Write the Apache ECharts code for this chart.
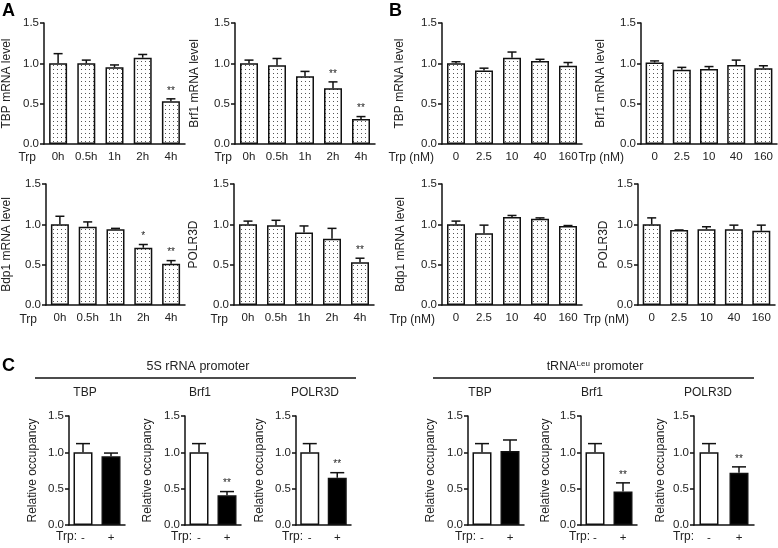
<!DOCTYPE html>
<html><head><meta charset="utf-8">
<script src="https://cdn.jsdelivr.net/npm/echarts@6/dist/echarts.min.js"></script>
<style>html,body{margin:0;padding:0;background:#fff}#c{width:778px;height:548px}</style>
</head><body><div id="c"></div>
<script>
// ---------- DATA ----------
const timeCats = ['0h', '0.5h', '1h', '2h', '4h'];
const doseCats = ['0', '2.5', '10', '40', '160'];
const trpCats = ['-', '+'];
const yTicks = [0, 0.5, 1.0, 1.5];

// Panel A (time course)
const aTBP = [1.00, 1.00, 0.95, 1.07, 0.53];
const aTBPErr = [1.12, 1.04, 0.98, 1.11, 0.56];
const aTBPSig = ['', '', '', '', '**'];
const aBrf1 = [1.00, 0.975, 0.84, 0.69, 0.31];
const aBrf1Err = [1.04, 1.06, 0.90, 0.77, 0.34];
const aBrf1Sig = ['', '', '', '**', '**'];
const aBdp1 = [1.00, 0.97, 0.94, 0.71, 0.51];
const aBdp1Err = [1.10, 1.03, 0.95, 0.75, 0.55];
const aBdp1Sig = ['', '', '', '*', '**'];
const aPOLR3D = [1.00, 0.99, 0.90, 0.82, 0.53];
const aPOLR3DErr = [1.04, 1.05, 0.98, 0.95, 0.58];
const aPOLR3DSig = ['', '', '', '', '**'];

// Panel B (dose)
const bTBP = [1.00, 0.91, 1.07, 1.03, 0.97];
const bTBPErr = [1.02, 0.94, 1.14, 1.05, 1.01];
const bBrf1 = [1.01, 0.92, 0.93, 0.98, 0.94];
const bBrf1Err = [1.03, 0.95, 0.96, 1.04, 0.97];
const bBdp1 = [1.00, 0.89, 1.09, 1.07, 0.98];
const bBdp1Err = [1.04, 0.99, 1.11, 1.08, 0.985];
const bPOLR3D = [1.00, 0.93, 0.94, 0.94, 0.92];
const bPOLR3DErr = [1.08, 0.93, 0.97, 0.99, 0.99];
const noSig = ['', '', '', '', ''];

// Panel C (occupancy)
const c5sTBP = [1.00, 0.945];
const c5sTBPErr = [1.12, 0.99];
const c5sTBPSig = ['', ''];
const c5sBrf1 = [1.00, 0.41];
const c5sBrf1Err = [1.12, 0.46];
const c5sBrf1Sig = ['', '**'];
const c5sPOLR3D = [1.00, 0.65];
const c5sPOLR3DErr = [1.12, 0.72];
const c5sPOLR3DSig = ['', '**'];
const cLeuTBP = [1.00, 1.02];
const cLeuTBPErr = [1.12, 1.17];
const cLeuTBPSig = ['', ''];
const cLeuBrf1 = [1.00, 0.46];
const cLeuBrf1Err = [1.12, 0.58];
const cLeuBrf1Sig = ['', '**'];
const cLeuPOLR3D = [1.00, 0.72];
const cLeuPOLR3DErr = [1.12, 0.80];
const cLeuPOLR3DSig = ['', '**'];

// ---------- STYLE / BUILD ----------
const FONT = "'Liberation Sans', Arial, Helvetica, sans-serif";
const INK = '#111';
const TXT = '#222';

const pc = document.createElement('canvas');
pc.width = 4; pc.height = 4;
const pctx = pc.getContext('2d');
pctx.fillStyle = '#ffffff'; pctx.fillRect(0, 0, 4, 4);
pctx.fillStyle = '#555555'; pctx.fillRect(1, 1, 1, 1);
const dots = { image: pc, repeat: 'repeat' };

const grids = [], xAxes = [], yAxes = [], series = [];

function panel(cfg) {
  const k = grids.length;
  grids.push({ left: cfg.left, top: cfg.top, width: cfg.width, height: cfg.height });
  xAxes.push({
    type: 'category', gridIndex: k, data: cfg.cats,
    axisLine: { lineStyle: { color: INK, width: 1.5 } },
    axisTick: { alignWithLabel: true, length: 4, lineStyle: { color: INK, width: 1.5 } },
    axisLabel: { color: TXT, fontSize: cfg.xfs || 11.5, margin: 7, fontFamily: FONT, interval: 0 },
    splitLine: { show: false }
  });
  yAxes.push({
    type: 'value', gridIndex: k, min: yTicks[0], max: yTicks[yTicks.length - 1], interval: 0.5,
    name: cfg.yName, nameLocation: 'middle', nameGap: cfg.gap,
    nameTextStyle: { color: TXT, fontSize: cfg.nfs || 12, fontFamily: FONT },
    axisLine: { show: true, lineStyle: { color: INK, width: 1.5 } },
    axisTick: { show: true, length: 4, lineStyle: { color: INK, width: 1.5 } },
    axisLabel: { color: TXT, fontSize: 11.5, margin: 5, fontFamily: FONT, formatter: v => v.toFixed(1) },
    splitLine: { show: false }
  });
  series.push({
    type: 'bar', xAxisIndex: k, yAxisIndex: k, barWidth: cfg.bw, silent: true,
    data: cfg.vals.map((v, i) => ({ value: v, itemStyle: { color: cfg.colors ? cfg.colors[i] : dots } })),
    itemStyle: { borderColor: INK, borderWidth: 1.5 }
  });
  const sig = cfg.sig, cap = cfg.cap;
  series.push({
    type: 'custom', xAxisIndex: k, yAxisIndex: k, silent: true, z: 5,
    data: cfg.vals.map((v, i) => [i, v, cfg.errs[i]]),
    renderItem: (params, api) => {
      const i = api.value(0), v = api.value(1), e = api.value(2);
      const p0 = api.coord([i, v]), p1 = api.coord([i, e]);
      const ch = [
        { type: 'line', shape: { x1: p0[0], y1: p0[1], x2: p1[0], y2: p1[1] }, style: { stroke: INK, lineWidth: 1.5 } },
        { type: 'line', shape: { x1: p1[0] - cap, y1: p1[1], x2: p1[0] + cap, y2: p1[1] }, style: { stroke: INK, lineWidth: 1.5 } }
      ];
      const s = sig[params.dataIndex];
      if (s) ch.push({ type: 'text', style: { text: s, x: p1[0], y: p1[1] - 3, align: 'center', verticalAlign: 'bottom', fontSize: 10, fill: TXT, fontFamily: FONT } });
      return { type: 'group', children: ch };
    }
  });
}

const TOP1 = 23, TOP2 = 184, H = 121, TOPC = 416, HC = 109;
// A
panel({ left: 43, top: TOP1, width: 142, height: H, cats: timeCats, vals: aTBP, errs: aTBPErr, sig: aTBPSig, yName: 'TBP mRNA level', gap: 31, bw: 18, cap: 4.5 });
panel({ left: 235, top: TOP1, width: 140, height: H, cats: timeCats, vals: aBrf1, errs: aBrf1Err, sig: aBrf1Sig, yName: 'Brf1 mRNA level', gap: 34, bw: 18, cap: 4.5 });
panel({ left: 43, top: TOP2, width: 142, height: H, cats: timeCats, vals: aBdp1, errs: aBdp1Err, sig: aBdp1Sig, yName: 'Bdp1 mRNA level', gap: 33, bw: 18, cap: 4.5 });
panel({ left: 234, top: TOP2, width: 140, height: H, cats: timeCats, vals: aPOLR3D, errs: aPOLR3DErr, sig: aPOLR3DSig, yName: 'POLR3D', gap: 34, bw: 18, cap: 4.5 });
// B
panel({ left: 442, top: TOP1, width: 140, height: H, cats: doseCats, vals: bTBP, errs: bTBPErr, sig: noSig, yName: 'TBP mRNA level', gap: 36, bw: 18, cap: 4.5 });
panel({ left: 641, top: TOP1, width: 136, height: H, cats: doseCats, vals: bBrf1, errs: bBrf1Err, sig: noSig, yName: 'Brf1 mRNA level', gap: 34, bw: 18, cap: 4.5 });
panel({ left: 442, top: TOP2, width: 140, height: H, cats: doseCats, vals: bBdp1, errs: bBdp1Err, sig: noSig, yName: 'Bdp1 mRNA level', gap: 35, bw: 18, cap: 4.5 });
panel({ left: 638, top: TOP2, width: 137, height: H, cats: doseCats, vals: bPOLR3D, errs: bPOLR3DErr, sig: noSig, yName: 'POLR3D', gap: 28, bw: 18, cap: 4.5 });
// C
const wb = ['#ffffff', '#000000'];
panel({ left: 69, top: TOPC, width: 56, height: HC, cats: trpCats, vals: c5sTBP, errs: c5sTBPErr, sig: c5sTBPSig, yName: 'Relative occupancy', gap: 30, nfs: 12, bw: 19, cap: 7, colors: wb });
panel({ left: 185, top: TOPC, width: 56, height: HC, cats: trpCats, vals: c5sBrf1, errs: c5sBrf1Err, sig: c5sBrf1Sig, yName: 'Relative occupancy', gap: 31, nfs: 12, bw: 19, cap: 7, colors: wb });
panel({ left: 296, top: TOPC, width: 55, height: HC, cats: trpCats, vals: c5sPOLR3D, errs: c5sPOLR3DErr, sig: c5sPOLR3DSig, yName: 'Relative occupancy', gap: 30, nfs: 12, bw: 19, cap: 7, colors: wb });
panel({ left: 468, top: TOPC, width: 56, height: HC, cats: trpCats, vals: cLeuTBP, errs: cLeuTBPErr, sig: cLeuTBPSig, yName: 'Relative occupancy', gap: 31, nfs: 12, bw: 19, cap: 7, colors: wb });
panel({ left: 581, top: TOPC, width: 56, height: HC, cats: trpCats, vals: cLeuBrf1, errs: cLeuBrf1Err, sig: cLeuBrf1Sig, yName: 'Relative occupancy', gap: 29, nfs: 12, bw: 19, cap: 7, colors: wb });
panel({ left: 694, top: TOPC, width: 60, height: HC, cats: trpCats, vals: cLeuPOLR3D, errs: cLeuPOLR3DErr, sig: cLeuPOLR3DSig, yName: 'Relative occupancy', gap: 27, nfs: 12, bw: 19, cap: 7, colors: wb });

function txt(text, x, y, opts) {
  return Object.assign({ type: 'text', x: x, y: y, silent: true,
    style: Object.assign({ text: text, fill: TXT, fontSize: 11.5, fontFamily: FONT, align: 'center', verticalAlign: 'middle' }, opts || {}) });
}
const graphics = [
  txt('A', 2, 2, { fontSize: 18, fontWeight: 'bold', fill: '#000', align: 'left', verticalAlign: 'top' }),
  txt('B', 389, 2, { fontSize: 18, fontWeight: 'bold', fill: '#000', align: 'left', verticalAlign: 'top' }),
  txt('C', 2, 357, { fontSize: 18, fontWeight: 'bold', fill: '#000', align: 'left', verticalAlign: 'top' }),
  txt('Trp', 36, 158, { align: 'right', fontSize: 12 }),
  txt('Trp', 232, 158, { align: 'right', fontSize: 12 }),
  txt('Trp', 37, 320, { align: 'right', fontSize: 12 }),
  txt('Trp', 228, 320, { align: 'right', fontSize: 12 }),
  txt('Trp (nM)', 434, 158, { align: 'right', fontSize: 12 }),
  txt('Trp (nM)', 624, 158, { align: 'right', fontSize: 12 }),
  txt('Trp (nM)', 435, 320, { align: 'right', fontSize: 12 }),
  txt('Trp (nM)', 629, 320, { align: 'right', fontSize: 12 }),
  txt('Trp:', 77, 537, { align: 'right', fontSize: 12 }),
  txt('Trp:', 192, 537, { align: 'right', fontSize: 12 }),
  txt('Trp:', 303, 537, { align: 'right', fontSize: 12 }),
  txt('Trp:', 476, 537, { align: 'right', fontSize: 12 }),
  txt('Trp:', 590, 537, { align: 'right', fontSize: 12 }),
  txt('Trp:', 694, 537, { align: 'right', fontSize: 12 }),
  txt('5S rRNA promoter', 198, 367, { fontSize: 12.5 }),
  { type: 'text', x: 595, y: 367, silent: true, style: { text: '{a|tRNA}{s|Leu}{a| promoter}', align: 'center', verticalAlign: 'middle',
      rich: { a: { fontSize: 12.5, fontFamily: FONT, fill: TXT }, s: { fontSize: 8, fontFamily: FONT, fill: TXT, verticalAlign: 'top', padding: [0, 0, 6, 0] } } } },
  { type: 'line', silent: true, shape: { x1: 35, y1: 378, x2: 356, y2: 378 }, style: { stroke: INK, lineWidth: 1.5 } },
  { type: 'line', silent: true, shape: { x1: 433, y1: 378, x2: 754, y2: 378 }, style: { stroke: INK, lineWidth: 1.5 } },
  txt('TBP', 85, 393, { fontSize: 12 }),
  txt('Brf1', 200, 393, { fontSize: 12 }),
  txt('POLR3D', 315, 393, { fontSize: 12 }),
  txt('TBP', 480, 393, { fontSize: 12 }),
  txt('Brf1', 592, 393, { fontSize: 12 }),
  txt('POLR3D', 708, 393, { fontSize: 12 })
];

const chart = echarts.init(document.getElementById('c'), null, { renderer: 'canvas' });
chart.setOption({
  animation: false,
  backgroundColor: '#ffffff',
  grid: grids, xAxis: xAxes, yAxis: yAxes, series: series,
  graphic: graphics
});
</script>
</body></html>
